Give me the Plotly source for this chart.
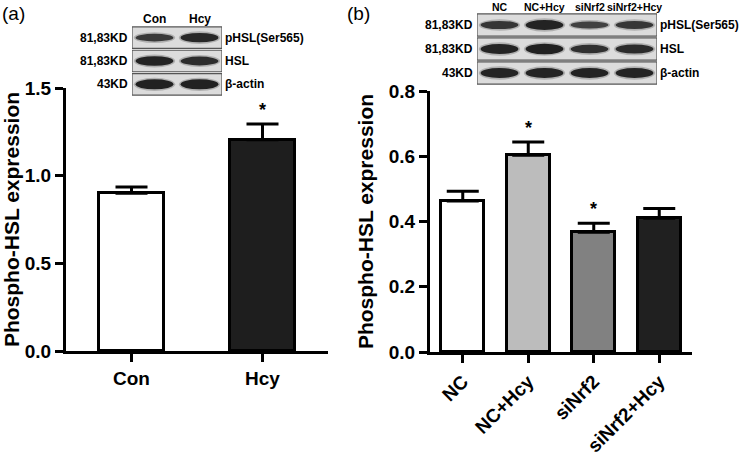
import plotly.graph_objects as go

# ---------------- data ----------------
cats_a = ["Con", "Hcy"]
vals_a = [0.90, 1.205]
err_a = [0.035, 0.09]
sig_a = ["", "*"]
colors_a = ["#ffffff", "#1e1e1e"]

cats_b = ["NC", "NC+Hcy", "siNrf2", "siNrf2+Hcy"]
vals_b = [0.463, 0.603, 0.367, 0.410]
err_b = [0.030, 0.041, 0.028, 0.030]
sig_b = ["", "*", "*", ""]
colors_b = ["#ffffff", "#bcbcbc", "#818181", "#202020"]

blot_rows = ["pHSL(Ser565)", "HSL", "β-actin"]
blot_kd = ["81,83KD", "81,83KD", "43KD"]
# relative band intensities (rows x lanes)
blot_a = [[0.55, 0.80], [0.85, 0.72], [0.90, 0.90]]
blot_b = [[0.60, 0.88, 0.42, 0.58], [0.85, 0.90, 0.68, 0.75], [0.85, 0.85, 0.88, 0.85]]

FONT = "Liberation Sans, Arial, sans-serif"
W, H = 742, 457

def px_x(p):
    return p / W

def px_y(p):
    return 1 - p / H

fig = go.Figure()

fig.add_trace(go.Bar(
    x=cats_a, y=vals_a, width=0.5,
    marker=dict(color=colors_a, line=dict(color="black", width=3)),
    error_y=dict(type="data", symmetric=False, array=err_a, arrayminus=[0] * len(err_a),
                 color="black", thickness=3, width=16),
    xaxis="x", yaxis="y", showlegend=False, hoverinfo="skip",
))
fig.add_trace(go.Bar(
    x=cats_b, y=vals_b, width=0.66,
    marker=dict(color=colors_b, line=dict(color="black", width=3)),
    error_y=dict(type="data", symmetric=False, array=err_b, arrayminus=[0] * len(err_b),
                 color="black", thickness=3, width=16),
    xaxis="x2", yaxis="y2", showlegend=False, hoverinfo="skip",
))

bold = dict(family=FONT, color="black", weight=700)

axis_common = dict(showline=True, linewidth=3, linecolor="black", ticks="outside",
                   ticklen=8, tickwidth=3, tickcolor="black", showgrid=False,
                   zeroline=False, automargin=False, tickfont=dict(size=19, **bold))
ytitle = dict(text="Phospho-HSL expression", font=dict(size=21, **bold), standoff=10)

fig.update_layout(
    width=W, height=H, margin=dict(l=0, r=0, t=0, b=0, autoexpand=False),
    plot_bgcolor="white", paper_bgcolor="white",
    bargap=0,
    xaxis=dict(domain=[px_x(66), px_x(328)], range=[-0.5, 1.5], anchor="y", **axis_common),
    yaxis=dict(domain=[px_y(351), px_y(88)], range=[0, 1.5], dtick=0.5, tickformat=".1f",
               anchor="x", title=ytitle, **axis_common),
    xaxis2=dict(domain=[px_x(430), px_x(692)], range=[-0.5, 3.5], anchor="y2", tickangle=-45,
                **axis_common),
    yaxis2=dict(domain=[px_y(352), px_y(91)], range=[0, 0.8], dtick=0.2, tickformat=".1f",
                anchor="x2", title=ytitle, **axis_common),
    # blot axes
    xaxis3=dict(domain=[px_x(132), px_x(222)], range=[-0.5, 1.5], anchor="y3", visible=False, automargin=False),
    yaxis3=dict(domain=[px_y(96), px_y(26)], range=[2.5, -0.5], anchor="x3", visible=False, automargin=False),
    xaxis4=dict(domain=[px_x(477), px_x(657)], range=[-0.5, 3.5], anchor="y4", visible=False, automargin=False),
    yaxis4=dict(domain=[px_y(85), px_y(13)], range=[2.5, -0.5], anchor="x4", visible=False, automargin=False),
)

shapes = []
annotations = []

# significance stars
for i, s in enumerate(sig_a):
    if s:
        annotations.append(dict(x=cats_a[i], y=vals_a[i] + err_a[i], xref="x", yref="y", text=s,
                                showarrow=False, yanchor="bottom", yshift=2,
                                font=dict(size=18, **bold)))
for i, s in enumerate(sig_b):
    if s:
        annotations.append(dict(x=cats_b[i], y=vals_b[i] + err_b[i], xref="x2", yref="y2", text=s,
                                showarrow=False, yanchor="bottom", yshift=2,
                                font=dict(size=18, **bold)))

def draw_blot(intens, lanes, xr, yr, head_size):
    n = len(lanes)
    for r, row in enumerate(intens):
        shapes.append(dict(type="rect", xref=xr, yref=yr, x0=-0.5, x1=n - 0.5,
                           y0=r - 0.46, y1=r + 0.46, fillcolor="#dcdcdc",
                           line=dict(color="#555555", width=1.2), layer="above"))
        for li, v in enumerate(row):
            hh = 0.16 + 0.30 * v
            shapes.append(dict(type="circle", xref=xr, yref=yr, x0=li - 0.46, x1=li + 0.46,
                               y0=r - hh / 2 - 0.07, y1=r + hh / 2 + 0.07, fillcolor="#7a7a7a",
                               opacity=0.45, line=dict(width=0), layer="above"))
            shapes.append(dict(type="circle", xref=xr, yref=yr, x0=li - 0.42, x1=li + 0.42,
                               y0=r - hh / 2, y1=r + hh / 2, fillcolor="#1a1a1a",
                               opacity=0.55 + 0.45 * v, line=dict(width=0), layer="above"))
        annotations.append(dict(x=-0.5, y=r, xref=xr, yref=yr, text=blot_kd[r], showarrow=False,
                                xanchor="right", xshift=-2, font=dict(size=12, **bold)))
        annotations.append(dict(x=n - 0.5, y=r, xref=xr, yref=yr, text=blot_rows[r], showarrow=False,
                                xanchor="left", xshift=1, font=dict(size=12, **bold)))
    for li, lab in enumerate(lanes):
        annotations.append(dict(x=li, y=-0.5, xref=xr, yref=yr, text=lab, showarrow=False,
                                yanchor="bottom", yshift=-2, font=dict(size=head_size, **bold)))

draw_blot(blot_a, cats_a, "x3", "y3", 12)
draw_blot(blot_b, cats_b, "x4", "y4", 10.5)

annotations.append(dict(x=px_x(0), y=px_y(1), xref="paper", yref="paper", text="(a)", showarrow=False,
                        xanchor="left", yanchor="top", font=dict(family=FONT, size=19, color="black")))
annotations.append(dict(x=px_x(345), y=px_y(1), xref="paper", yref="paper", text="(b)", showarrow=False,
                        xanchor="left", yanchor="top", font=dict(family=FONT, size=19, color="black")))

fig.update_layout(shapes=shapes, annotations=annotations)

fig.write_html("out.html", config={"displayModeBar": False},
               post_script="document.body.style.margin='0px';")
